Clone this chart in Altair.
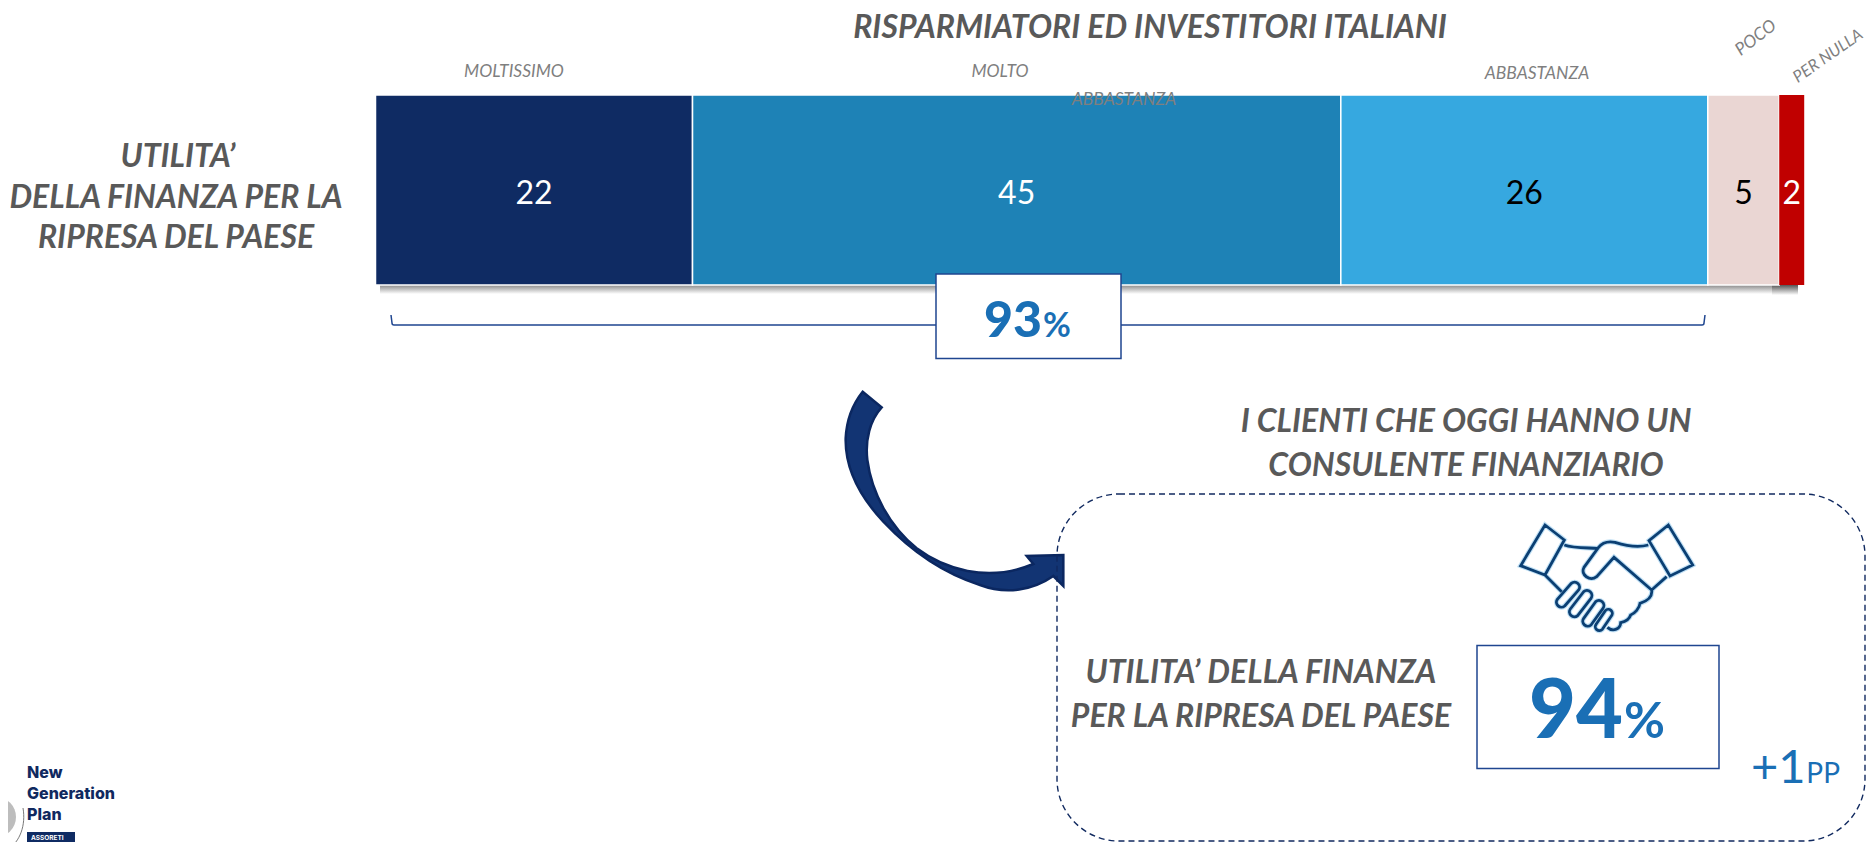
import altair as alt
import pandas as pd

# ---- data
categorie = ["MOLTISSIMO", "MOLTO", "ABBASTANZA", "POCO", "PER NULLA"]
valori = [22.2, 45.4, 25.7, 5.0, 1.75]
etichette = ["22", "45", "26", "5", "2"]
colori = ["#0f2b63", "#1e82b6", "#36a8e0", "#ead6d3", "#c00000"]
colori_testo = ["#ffffff", "#ffffff", "#000000", "#000000", "#ffffff"]

W, H = 1858, 834
OX, OY = 8, 8  # page margin: reference px -> chart px
FONT = "Lato"
GREY = "#595959"
LABEL = "#7f7f7f"
BLUE = "#1a6fb5"
NAVY = "#10295f"
BOXLINE = "#1f4690"

one = pd.DataFrame({"a": [0]})
bar_df = pd.DataFrame({"categoria": categorie, "valore": valori, "etichetta": etichette,
                       "ordine": list(range(len(categorie)))})
xscale = alt.Scale(domain=[0, 100], range=[375.5 - OX, 1803.5 - OX])


def rx(v):
    return alt.value(v - OX)


def ry(v):
    return alt.value(v - OY)


def txt(s, x, y, size, color=GREY, weight="bold", style="italic", align="center", angle=0, baseline="alphabetic", font=FONT):
    return alt.Chart(pd.DataFrame({"t": [s]})).mark_text(
        fontSize=size, color=color, fontWeight=weight, fontStyle=style, align=align,
        angle=angle, baseline=baseline, font=font
    ).encode(text="t:N", x=rx(x), y=ry(y))


def shape(path, x, y, scale=1.0, fill=None, stroke=None, sw=1.0, op=1.0):
    kw = {"shape": path, "size": 4 * scale * scale, "opacity": op, "strokeWidth": sw}
    if fill:
        kw.update(filled=True, fill=fill)
    else:
        kw.update(filled=False, fillOpacity=0)
    if stroke:
        kw["stroke"] = stroke
    else:
        kw["strokeOpacity"] = 0
    return alt.Chart(one).mark_point(**kw).encode(x=rx(x), y=ry(y))


def box(x0, y0, x1, y1, **kw):
    return alt.Chart(one).mark_rect(**kw).encode(x=rx(x0), x2=rx(x1), y=ry(y0), y2=ry(y1))


shadow = alt.LinearGradient(gradient="linear", x1=0, x2=0, y1=0, y2=1,
                            stops=[alt.GradientStop(offset=0, color="#8a8a8a"),
                                   alt.GradientStop(offset=1, color="#ffffff")])
shadow_dark = alt.LinearGradient(gradient="linear", x1=0, x2=0, y1=0, y2=1,
                                 stops=[alt.GradientStop(offset=0, color="#555555"),
                                        alt.GradientStop(offset=1, color="#ffffff")])

shadows = box(380, 285, 1780, 294, fill=shadow) + box(1772, 285, 1798, 295, fill=shadow_dark)

bars = alt.Chart(bar_df).transform_stack(
    stack="valore", as_=["x0", "x1"], groupby=[], sort=[alt.SortField("ordine")]
).mark_rect(stroke="#ffffff").encode(
    x=alt.X("x0:Q", scale=xscale, axis=None),
    x2="x1:Q",
    y=ry(95),
    y2=ry(285),
    fill=alt.Fill("categoria:N", scale=alt.Scale(domain=categorie, range=colori), legend=None),
    strokeWidth=alt.condition("datum.categoria == 'PER NULLA'", alt.value(0), alt.value(1.5)),
)

numbers = alt.Chart(bar_df).transform_stack(
    stack="valore", as_=["x0", "x1"], groupby=[], sort=[alt.SortField("ordine")]
).transform_calculate(mid="(datum.x0 + datum.x1) / 2").mark_text(
    font=FONT, fontSize=32, baseline="alphabetic"
).encode(
    x=alt.X("mid:Q", scale=xscale, axis=None),
    y=ry(204),
    text="etichetta:N",
    color=alt.Color("categoria:N", scale=alt.Scale(domain=categorie, range=colori_testo), legend=None),
)

# ---- decorations
bracket = shape("M391,315 L392,323 Q392,325 394,325 L1702,325 Q1704,325 1704,323 L1705,315", 0, 0,
                stroke=BOXLINE, sw=1.5)
box93 = box(936, 274, 1121, 358.5, fill="#ffffff", stroke=BOXLINE, strokeWidth=1.5)
box94 = box(1477, 645.5, 1719, 768.5, fill="#ffffff", stroke=BOXLINE, strokeWidth=1.5)

arrow = shape(
    "M128,65 L185,112 C150,150 135,210 142,270 C155,370 210,470 290,535 C370,595 500,640 640,582 "
    "L620,558 L730,555 L730,648 L700,618 C640,660 560,675 480,645 C370,610 270,540 190,455 "
    "C120,380 75,300 77,205 C80,140 100,100 128,65 Z",
    820, 370, scale=1 / 3, fill="#123473", stroke="#0b2760", sw=2.5)

panel = box(1057, 494, 1865, 841, fill="#ffffff", fillOpacity=0, stroke=NAVY, strokeWidth=1.4,
            strokeDash=[6, 4], cornerRadius=62)

ICON = "#0b3f73"
hand = (
    "M135,135 L193,180 L135,285 L62,257 Z "
    "M505,135 L447,182 L510,288 L578,255 Z "
    "M193,195 C220,205 260,203 292,205 "
    "M445,195 C410,205 370,195 345,187 C320,182 305,190 295,203 L252,262 C240,285 270,305 290,290 L342,232 L455,330 "
    "M135,285 L185,335 "
    "M500,290 L455,330 C458,350 445,362 420,370 C418,385 405,400 392,405 C388,418 375,425 362,428 C362,445 340,458 322,442 "
    "M194,378 L236,330 A15,15 0 0 0 214,310 L172,358 A15,15 0 0 0 194,378 Z "
    "M233,407 L273,355 A15,15 0 0 0 251,335 L211,387 A15,15 0 0 0 233,407 Z "
    "M273,435 L309,385 A15,15 0 0 0 287,365 L251,415 A15,15 0 0 0 273,435 Z "
    "M307,448 L334,408 A12,12 0 0 0 316,392 L289,432 A12,12 0 0 0 307,448 Z"
)
icon_halo = shape(hand, 1500, 480, scale=1 / 3, stroke="#5fb0e6", sw=5, op=0.4)
icon = shape(hand, 1500, 480, scale=1 / 3, stroke=ICON, sw=2.8)

logo_disc = alt.Chart(one).mark_point(filled=True, fill="#bdbdbd", size=1600, shape="circle", opacity=1).encode(
    x=alt.value(-12), y=ry(817))
logo_arc = shape("M23,808 C26,825 20,842 8,849", 0, 0, stroke="#555555", sw=0.8)
logo_tag = box(27, 832, 75, 842, fill="#0f2b63")

layers = [
    shadows, bars, numbers,
    bracket, box93,
    txt("RISPARMIATORI ED INVESTITORI ITALIANI", 1150, 37.5, 32),
    txt("MOLTISSIMO", 514, 77, 17.5, LABEL, "normal"),
    txt("MOLTO", 1000, 76.5, 17.5, LABEL, "normal"),
    txt("ABBASTANZA", 1537, 79, 17.5, LABEL, "normal"),
    txt("ABBASTANZA", 1124, 105, 17.5, LABEL, "normal"),
    txt("POCO", 1756, 38, 17.5, LABEL, "normal", angle=322, baseline="middle"),
    txt("PER NULLA", 1828, 56, 16.5, LABEL, "normal", angle=325, baseline="middle"),
    txt("UTILITA’", 178, 167, 32),
    txt("DELLA FINANZA PER LA", 176, 208, 32),
    txt("RIPRESA DEL PAESE", 176, 248, 32),
    txt("93", 1042, 337, 50, BLUE, 900, "normal", align="right"),
    txt("%", 1043, 337, 34, BLUE, "bold", "normal", align="left"),
    arrow, panel,
    icon_halo, icon,
    txt("I CLIENTI CHE OGGI HANNO UN", 1466, 432, 32),
    txt("CONSULENTE FINANZIARIO", 1466, 476, 32),
    txt("UTILITA’ DELLA FINANZA", 1261, 683, 32),
    txt("PER LA RIPRESA DEL PAESE", 1261, 727, 32),
    box94,
    txt("94", 1623, 738, 81, BLUE, 900, "normal", align="right"),
    txt("%", 1624, 738, 50, BLUE, "bold", "normal", align="left"),
    txt("+1", 1751, 783, 47, BLUE, "normal", "normal", align="left"),
    txt("PP", 1840, 783, 28, BLUE, "normal", "normal", align="right"),
    logo_disc, logo_arc, logo_tag,
    txt("New", 27, 778, 16, NAVY, 800, "normal", align="left", font="Inter"),
    txt("Generation", 27, 799, 16, NAVY, 800, "normal", align="left", font="Inter"),
    txt("Plan", 27, 820, 16, NAVY, 800, "normal", align="left", font="Inter"),
    txt("ASSORETI", 31, 840, 6.5, "#ffffff", "bold", "normal", align="left", font="Inter"),
]

chart = alt.layer(*layers).resolve_scale(fill="independent", color="independent").properties(
    width=W, height=H, padding=0, autosize=alt.AutoSizeParams(type="none"), background="#ffffff"
).configure_view(stroke=None)

chart.save("out.html", embed_options={"renderer": "svg", "actions": False})
